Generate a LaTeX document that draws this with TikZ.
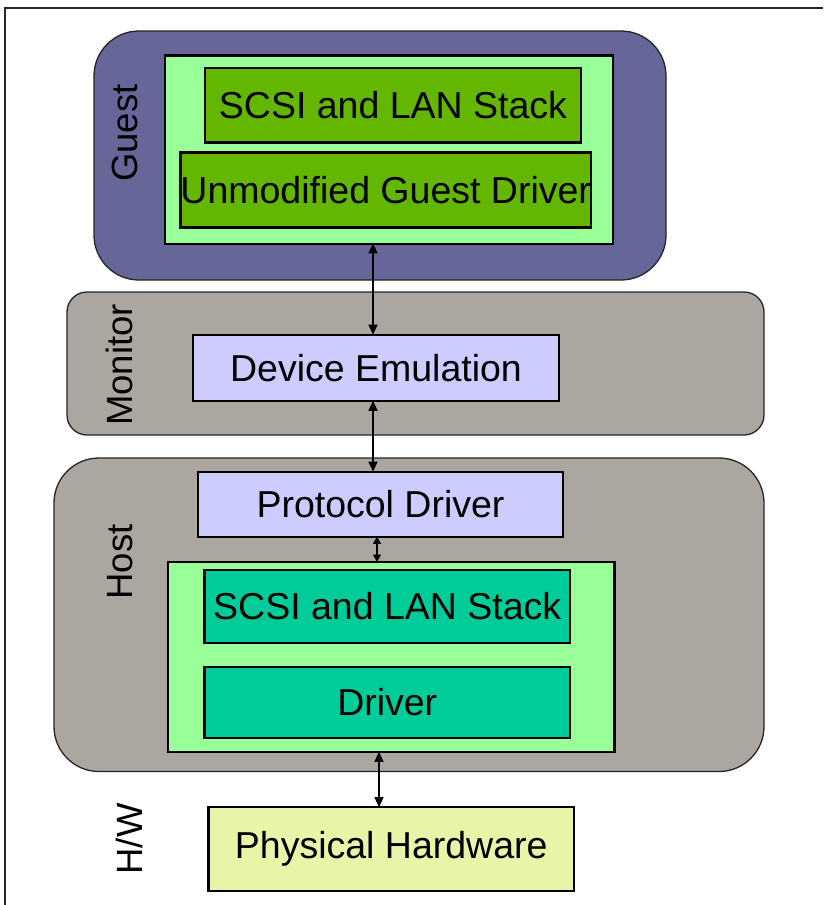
\documentclass[tikz,border=0pt]{standalone}
\usepackage{fontspec}
\setmainfont{Liberation Sans}
\usetikzlibrary{arrows.meta}
\definecolor{guestc}{HTML}{666699}
\definecolor{lgreen}{HTML}{99FF99}
\definecolor{ggreen}{HTML}{63B700}
\definecolor{grayc}{HTML}{ABA69F}
\definecolor{lav}{HTML}{CCCCFF}
\definecolor{teal}{HTML}{00CC99}
\definecolor{hwc}{HTML}{E8F5A8}
\begin{document}
\begin{tikzpicture}[x=1pt,y=-1pt,
  lbl/.style={font=\fontsize{37.5}{41}\selectfont},
  container/.style={draw=black!85, line width=1.3pt, inner sep=0pt},
  boxc/.style={draw=black, line width=2.6pt, inner sep=0pt, lbl},
  side/.style={font=\fontsize{36.5}{40}\selectfont, rotate=90, inner sep=0pt},
  dar/.style={line width=1.3pt, {Triangle[length=10pt,width=9pt]}-{Triangle[length=10pt,width=9pt]}},
  sdar/.style={line width=1.3pt, {Triangle[length=7pt,width=8pt]}-{Triangle[length=7pt,width=8pt]}}
]
\useasboundingbox (0,0) rectangle (823,905);
\fill[white] (0,0) rectangle (823,905);
\draw[line width=2pt, black!85] (5,905) -- (5,8) -- (823,8);

% Guest
\node[container, fill=guestc, rounded corners=45pt, minimum width=572pt, minimum height=249pt] (guest) at (380,155.5) {};
\node[boxc, fill=lgreen, minimum width=448pt, minimum height=188.5pt] (guestin) at (389,149.75) {};
\node[boxc, fill=ggreen, minimum width=376pt, minimum height=74.5pt] (gscsi) at (393,105.25) {SCSI and LAN Stack};
\node[boxc, fill=ggreen, minimum width=410.5pt, minimum height=75pt] (gdrv) at (385.75,190) {Unmodified Guest Driver};
\node[side] (guestlbl) at (124.5,133) {Guest};

% Monitor
\node[container, fill=grayc, rounded corners=20pt, minimum width=697pt, minimum height=143pt] (monitor) at (415.5,363.5) {};
\node[boxc, fill=lav, minimum width=366pt, minimum height=66pt] (devemu) at (376,368) {Device Emulation};
\node[side] (monlbl) at (119,365) {Monitor};

% Host
\node[container, fill=grayc, rounded corners=45pt, minimum width=710pt, minimum height=313.5pt] (host) at (409,614.75) {};
\node[boxc, fill=lav, minimum width=365pt, minimum height=65pt] (proto) at (380.5,504.5) {Protocol Driver};
\node[boxc, fill=lgreen, minimum width=446.5pt, minimum height=190pt] (hostin) at (391.25,657) {};
\node[boxc, fill=teal, minimum width=365.5pt, minimum height=73pt] (hscsi) at (387.25,606.5) {SCSI and LAN Stack};
\node[boxc, fill=teal, minimum width=365.5pt, minimum height=71pt] (hdrv) at (387.25,702.5) {Driver};
\node[side] (hostlbl) at (120,562) {Host};

% Hardware
\node[boxc, fill=hwc, minimum width=365.5pt, minimum height=84pt] (hw) at (391.25,849) {Physical Hardware};
\node[side] (hwlbl) at (129,839) {H/W};

% connectors
\coordinate (a1) at (373,0);
\coordinate (a3) at (377,0);
\coordinate (a4) at (379,0);
\draw[dar] ([yshift=2pt]guestin.south -| a1) -- ([yshift=-1pt]devemu.north -| a1);
\draw[dar] ([yshift=1.5pt]devemu.south -| a1) -- ([yshift=-1pt]proto.north -| a1);
\draw[sdar] ([yshift=1.5pt]proto.south -| a3) -- ([yshift=-1pt]hostin.north -| a3);
\draw[dar] ([yshift=1.5pt]hostin.south -| a4) -- ([yshift=-1.5pt]hw.north -| a4);
\end{tikzpicture}
\end{document}
